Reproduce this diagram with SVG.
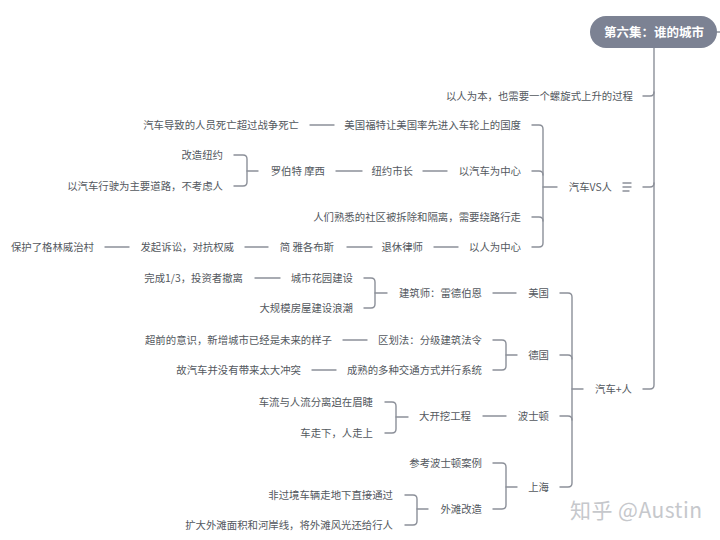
<svg xmlns="http://www.w3.org/2000/svg" width="720" height="540" viewBox="0 0 720 540">
<style>
.t{font-family:"Noto Sans CJK SC","Noto Sans",sans-serif;font-size:10.4px;fill:#53585e;text-anchor:end}
.c{fill:none;stroke:#8c9099;stroke-width:1.4;stroke-linecap:round}
.r{font-family:"Noto Sans CJK SC","Noto Sans",sans-serif;font-size:12.5px;font-weight:bold;fill:#ffffff;text-anchor:middle}
</style>
<rect width="720" height="540" fill="#ffffff"/>
<g id="connectors">
<path class="c" d="M654 48 V385 Q654 389 650 389 H643"/>
<path class="c" d="M643 96 H650 Q654 96 654 92"/>
<path class="c" d="M643 187 H650 Q654 187 654 183"/>
<path class="c" d="M717 32 H720"/>
<path class="c" d="M532 125 H539 Q543 125 543 129 V243 Q543 247 539 247 H532"/>
<path class="c" d="M532 171 H539 Q543 171 543 175"/>
<path class="c" d="M532 217 H539 Q543 217 543 221"/>
<path class="c" d="M543 187 H557"/>
<path class="c" d="M310 125 H334"/>
<path class="c" d="M423 171 H447"/>
<path class="c" d="M336 171 H362"/>
<path class="c" d="M234 155 H243 Q247 155 247 159 V182 Q247 186 243 186 H234"/>
<path class="c" d="M247 171 H258"/>
<path class="c" d="M434 247 H458"/>
<path class="c" d="M347 247 H372"/>
<path class="c" d="M245 247 H268"/>
<path class="c" d="M105 247 H129"/>
<path class="c" d="M560 293 H568 Q572 293 572 297 V483 Q572 487 568 487 H560"/>
<path class="c" d="M560 355 H568 Q572 355 572 359"/>
<path class="c" d="M560 416 H568 Q572 416 572 420"/>
<path class="c" d="M572 389 H583"/>
<path class="c" d="M493 293 H516"/>
<path class="c" d="M364 278 H371 Q375 278 375 282 V304 Q375 308 371 308 H364"/>
<path class="c" d="M375 293 H387"/>
<path class="c" d="M255 278 H280"/>
<path class="c" d="M493 340 H502 Q506 340 506 344 V366 Q506 370 502 370 H493"/>
<path class="c" d="M506 355 H517"/>
<path class="c" d="M343 340 H367"/>
<path class="c" d="M312 370 H336"/>
<path class="c" d="M483 416 H506"/>
<path class="c" d="M385 402 H392 Q396 402 396 406 V429 Q396 433 392 433 H385"/>
<path class="c" d="M396 417 H408"/>
<path class="c" d="M493 463 H502 Q506 463 506 467 V505 Q506 509 502 509 H493"/>
<path class="c" d="M506 487 H517"/>
<path class="c" d="M405 495 H413 Q417 495 417 499 V521 Q417 525 413 525 H405"/>
<path class="c" d="M417 509 H428"/>
</g>
<g id="root">
<rect x="590" y="16" width="127" height="32" rx="16" fill="#7c8293"/>
<text class="r" x="654" y="36.5">第六集：谁的城市</text>
</g>
<g id="n1"><text class="t" x="633" y="99.6">以人为本，也需要一个螺旋式上升的过程</text></g>
<g id="n2"><text class="t" x="612" y="190.6">汽车VS人</text>
<path class="c" d="M623 183 H631 M623 187 H631 M623 191 H629" stroke-width="1"/></g>
<g id="n3"><text class="t" x="632" y="392.6">汽车+人</text></g>
<g id="a1"><text class="t" x="521" y="128.6">美国福特让美国率先进入车轮上的国度</text></g>
<g id="a1a"><text class="t" x="299" y="128.6">汽车导致的人员死亡超过战争死亡</text></g>
<g id="a2"><text class="t" x="521" y="174.6">以汽车为中心</text></g>
<g id="a2a"><text class="t" x="413" y="174.6">纽约市长</text></g>
<g id="a2b"><text class="t" x="325" y="174.6">罗伯特 摩西</text></g>
<g id="a2b1"><text class="t" x="223" y="158.6">改造纽约</text></g>
<g id="a2b2"><text class="t" x="223" y="189.6">以汽车行驶为主要道路，不考虑人</text></g>
<g id="a3"><text class="t" x="521" y="220.6">人们熟悉的社区被拆除和隔离，需要绕路行走</text></g>
<g id="a4"><text class="t" x="521" y="250.6">以人为中心</text></g>
<g id="a4a"><text class="t" x="423" y="250.6">退休律师</text></g>
<g id="a4b"><text class="t" x="334" y="250.6">简 雅各布斯</text></g>
<g id="a4c"><text class="t" x="234" y="250.6">发起诉讼，对抗权威</text></g>
<g id="a4d"><text class="t" x="94" y="250.6">保护了格林威治村</text></g>
<g id="b1"><text class="t" x="549" y="296.6">美国</text></g>
<g id="b1a"><text class="t" x="482" y="296.6">建筑师：雷德伯恩</text></g>
<g id="b1a1"><text class="t" x="353" y="281.6">城市花园建设</text></g>
<g id="b1a1a"><text class="t" x="243" y="281.6">完成1/3，投资者撤离</text></g>
<g id="b1a2"><text class="t" x="353" y="311.6">大规模房屋建设浪潮</text></g>
<g id="b2"><text class="t" x="549" y="358.6">德国</text></g>
<g id="b2a"><text class="t" x="482" y="343.6">区划法：分级建筑法令</text></g>
<g id="b2a1"><text class="t" x="332" y="343.6">超前的意识，新增城市已经是未来的样子</text></g>
<g id="b2b"><text class="t" x="482" y="373.6">成熟的多种交通方式并行系统</text></g>
<g id="b2b1"><text class="t" x="301" y="373.6">故汽车并没有带来太大冲突</text></g>
<g id="b3"><text class="t" x="549" y="419.6">波士顿</text></g>
<g id="b3a"><text class="t" x="471" y="419.6">大开挖工程</text></g>
<g id="b3a1"><text class="t" x="373" y="405.6">车流与人流分离迫在眉睫</text></g>
<g id="b3a2"><text class="t" x="373" y="436.6">车走下，人走上</text></g>
<g id="b4"><text class="t" x="549" y="490.6">上海</text></g>
<g id="b4a"><text class="t" x="482" y="466.6">参考波士顿案例</text></g>
<g id="b4b"><text class="t" x="482" y="512.6">外滩改造</text></g>
<g id="b4b1"><text class="t" x="393" y="498.6">非过境车辆走地下直接通过</text></g>
<g id="b4b2"><text class="t" x="393" y="528.6">扩大外滩面积和河岸线，将外滩风光还给行人</text></g>
<g id="watermark"><text x="570" y="517.5" font-family="Noto Sans CJK SC, Noto Sans, sans-serif" font-size="21" fill="#c6c8cc" textLength="132" lengthAdjust="spacing">知乎 @Austin</text></g>
</svg>
